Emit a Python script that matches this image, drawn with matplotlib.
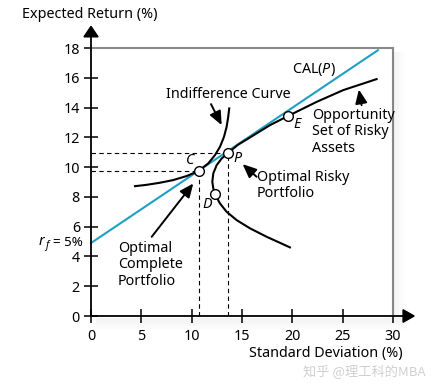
import matplotlib
matplotlib.use("Agg")
import matplotlib.pyplot as plt
from matplotlib.patches import Polygon, Rectangle

plt.rcParams['font.family'] = ['Noto Sans', 'DejaVu Sans']
plt.rcParams['mathtext.fontset'] = 'custom'
plt.rcParams['mathtext.rm'] = 'Noto Sans'
plt.rcParams['mathtext.it'] = 'Noto Sans:italic'

# ---- data ----
x_ticks = [0, 5, 10, 15, 20, 25, 30]
y_ticks = [0, 2, 4, 6, 8, 10, 12, 14, 16, 18]

rf = 4.9
cal_x = [0.0, 28.5]
cal_y = [4.9, 17.85]

# opportunity set of risky assets (std, expected return)
opp_sd = [19.76, 17.45, 15.79, 14.47, 13.47, 12.81, 12.32, 12.15, 12.05, 12.15,
          12.48, 12.98, 13.63, 14.6, 15.79, 17.78, 19.59, 22.41, 25.05, 28.37]
opp_er = [4.61, 5.32, 5.89, 6.44, 7.00, 7.56, 8.19, 8.57, 9.01, 9.58,
          10.13, 10.58, 10.96, 11.5, 11.99, 12.82, 13.44, 14.38, 15.17, 15.91]

# indifference curve
ind_sd = [4.37, 5.53, 6.85, 8.17, 9.50, 10.65, 11.65, 12.32, 12.81, 13.21, 13.47, 13.63, 13.73]
ind_er = [8.72, 8.81, 8.95, 9.13, 9.40, 9.73, 10.25, 10.81, 11.36, 12.03, 12.70, 13.37, 13.94]

# highlighted portfolios
C = (10.72, 9.73)
P = (13.63, 10.96)
E = (19.59, 13.44)
D = (12.32, 8.19)

W, H = 436, 387
fig = plt.figure(figsize=(W/100, H/100), dpi=100)
ax = fig.add_axes([91/W, 1-316/H, 302/W, 268/H])
ax.set_xlim(0, 30)
ax.set_ylim(0, 18)

def fx(px):
    return px / W

def fy(py):
    return 1 - py / H

# shadow (decoration) to the right of the frame and below the x axis
for i in range(10):
    a = 0.05 * (1 - i / 10)
    fig.patches.append(Rectangle((fx(393 + i*1.2), fy(318)), 1.2/W, (318-52)/H,
                                 transform=fig.transFigure, color='k', alpha=a, lw=0, zorder=0))
    fig.patches.append(Rectangle((fx(96), fy(318 + (i+1)*1.2)), (393-96+12)/W, 1.2/H,
                                 transform=fig.transFigure, color='k', alpha=a, lw=0, zorder=0))

for s in ['top', 'right']:
    ax.spines[s].set_color('#8a8a8a')
    ax.spines[s].set_linewidth(1.5)
for s in ['left', 'bottom']:
    ax.spines[s].set_visible(False)

# axes with arrows
ax.plot([0, 0], [0, 18.8], color='k', lw=1.3, clip_on=False, zorder=5)
ax.plot([0, 31.1], [0, 0], color='k', lw=1.3, clip_on=False, zorder=5)
ax.add_patch(Polygon([(-0.7, 18.75), (0.7, 18.75), (0, 19.45)], closed=True,
                     color='k', clip_on=False, zorder=6))
ax.add_patch(Polygon([(31.0, -0.42), (31.0, 0.42), (32.1, 0)], closed=True,
                     color='k', clip_on=False, zorder=6))

ax.set_xticks(x_ticks)
ax.set_yticks(y_ticks)
ax.tick_params(axis='both', direction='inout', length=10, width=1.1, color='k',
               labelsize=10.3)
ax.tick_params(axis='x', pad=4)
ax.tick_params(axis='y', pad=3)

# dashed guides
dash = dict(color='k', lw=0.8, ls=(0, (4, 3)), zorder=2)
ax.plot([0, P[0]], [P[1], P[1]], **dash)
ax.plot([P[0], P[0]], [0, P[1]], **dash)
ax.plot([0, C[0]], [C[1], C[1]], **dash)
ax.plot([C[0], C[0]], [0, C[1]], **dash)

# curves
ax.plot(cal_x, cal_y, color='#1f9fc6', lw=1.5, zorder=3, clip_on=False)
ax.plot(opp_sd, opp_er, color='k', lw=1.5, zorder=3, solid_joinstyle='round')
ax.plot(ind_sd, ind_er, color='k', lw=1.5, zorder=3, solid_joinstyle='round')

for pt in [C, P, E, D]:
    ax.plot(*pt, 'o', ms=7, mfc='white', mec='k', mew=1.0, zorder=4)

# labels
fs = 10.3
def ftext(px, py, s, **kw):
    kw.setdefault('fontsize', fs)
    return fig.text(fx(px), fy(py), s, **kw)

ftext(237.5, 158, 'P', style='italic', ha='center', va='center')
ftext(190, 161, 'C', style='italic', ha='center', va='center')
ftext(207, 204, 'D', style='italic', ha='center', va='center')
ftext(297, 124, 'E', style='italic', ha='center', va='center')
ftext(292, 70, r'CAL($P$)', ha='left', va='center')

ftext(166, 94, 'Indifference Curve', ha='left', va='center')
ftext(312, 108, 'Opportunity\nSet of Risky\nAssets', ha='left', va='top', linespacing=1.12)
ftext(257, 170, 'Optimal Risky\nPortfolio', ha='left', va='top', linespacing=1.12)
ftext(118, 241, 'Optimal\nComplete\nPortfolio', ha='left', va='top', linespacing=1.12)

# r_f = 5% built from pieces
ftext(83, 242, '= 5%', ha='right', va='center', fontsize=9.6)
ftext(48.5, 245.5, 'f', style='italic', ha='right', va='center', fontsize=7.5)
ftext(44.5, 241.5, 'r', style='italic', ha='right', va='center', fontsize=10.3)

arrow = dict(arrowstyle='-|>,head_length=0.55,head_width=0.24', color='k', lw=1.4,
             mutation_scale=15, shrinkA=0, shrinkB=0)
ax.annotate('', xy=(12.98, 12.82), xytext=(11.92, 14.23), arrowprops=arrow)
ax.annotate('', xy=(26.61, 15.21), xytext=(26.88, 14.16), arrowprops=arrow)
ax.annotate('', xy=(15.06, 10.2), xytext=(16.45, 9.35), arrowprops=arrow)
ax.annotate('', xy=(10.16, 8.9), xytext=(6.03, 5.32), arrowprops=arrow)

ftext(22, 14, 'Expected Return (%)', va='center', ha='left')
ftext(403, 353, 'Standard Deviation (%)', va='center', ha='right')
ftext(425, 372, '知乎 @理工科的MBA', fontsize=9.5, color='#d0d0d0', va='center', ha='right',
      family=['Noto Sans CJK SC', 'DejaVu Sans'])

fig.savefig('out.png', dpi=100)
